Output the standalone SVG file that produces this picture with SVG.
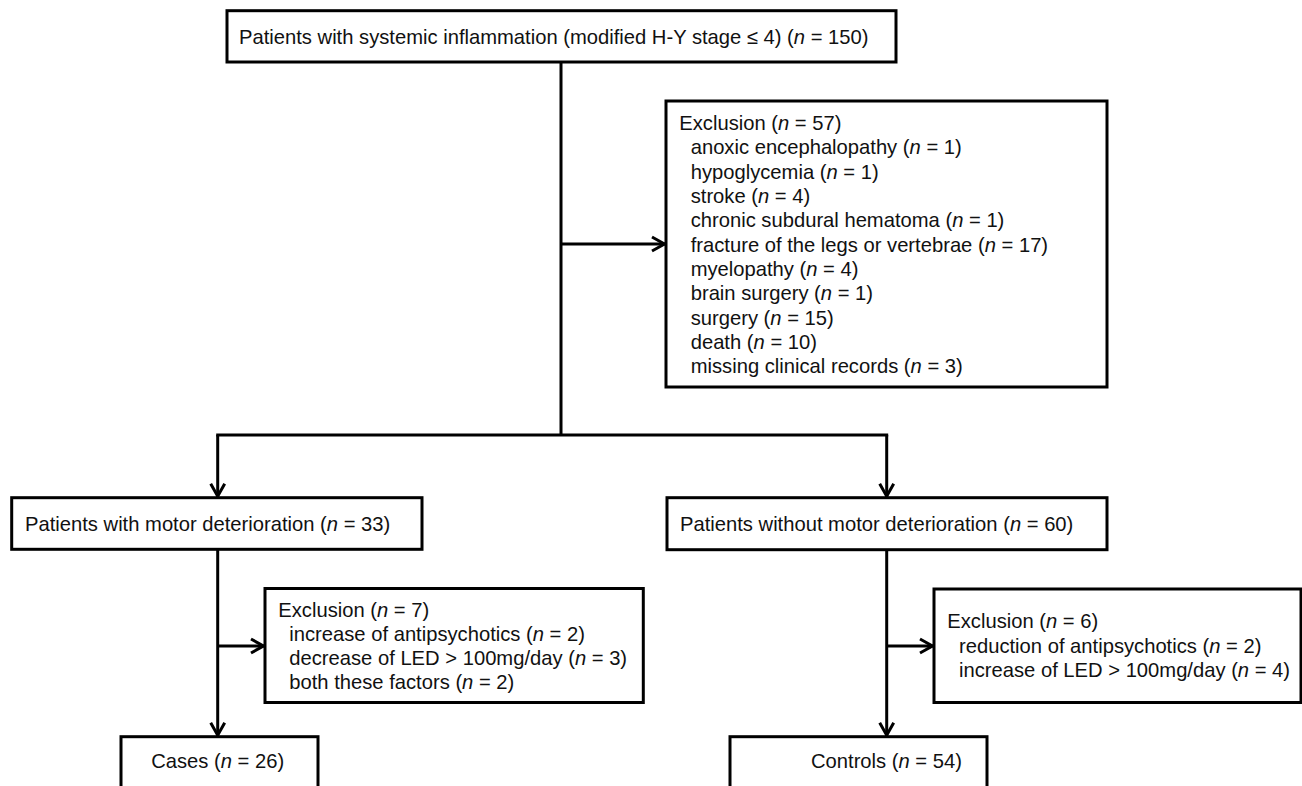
<svg xmlns="http://www.w3.org/2000/svg" width="1302" height="786" viewBox="0 0 1302 786">
<style>
.box{fill:#fff;stroke:#000;stroke-width:3}
.ln{fill:none;stroke:#000;stroke-width:3}
.arr{marker-end:url(#ah)}
text{font-family:"Liberation Sans",Arial,sans-serif;font-size:20.2px;fill:#111}
.i{font-style:italic}
</style>
<defs>
<marker id="ah" viewBox="-16 -10 20 20" refX="0" refY="0" markerWidth="20" markerHeight="20" markerUnits="userSpaceOnUse" orient="auto" overflow="visible">
<path d="M-14,-7 L-1.5,0 L-14,7" fill="none" stroke="#000" stroke-width="3"/>
</marker>
</defs>
<rect width="1302" height="786" fill="#fff"/>
<g id="connectors">
<path class="ln" d="M561,62 V435"/>
<path class="ln arr" d="M561,244 H666"/>
<path class="ln" d="M216.2,435 H888.2"/>
<path class="ln arr" d="M217.7,435 V497.7"/>
<path class="ln arr" d="M886.7,435 V497.7"/>
<path class="ln arr" d="M217.7,549.3 V736.7"/>
<path class="ln arr" d="M217.7,646 H265"/>
<path class="ln arr" d="M886.7,549.7 V736.7"/>
<path class="ln arr" d="M886.7,646 H934"/>
</g>
<g id="n_all">
<rect class="box" x="227" y="10.7" width="669" height="51.3"/>
<text x="239" y="44.3">Patients with systemic inflammation (modified H-Y stage ≤ 4) (<tspan class="i">n</tspan> = 150)</text>
</g>
<g id="n_excl1">
<rect class="box" x="666" y="101" width="441" height="286"/>
<text x="679.3" y="130">Exclusion (<tspan class="i">n</tspan> = 57)</text>
<text x="690.7" y="154.4">anoxic encephalopathy (<tspan class="i">n</tspan> = 1)</text>
<text x="690.7" y="178.7">hypoglycemia (<tspan class="i">n</tspan> = 1)</text>
<text x="690.7" y="203">stroke (<tspan class="i">n</tspan> = 4)</text>
<text x="690.7" y="227.4">chronic subdural hematoma (<tspan class="i">n</tspan> = 1)</text>
<text x="690.7" y="251.7">fracture of the legs or vertebrae (<tspan class="i">n</tspan> = 17)</text>
<text x="690.7" y="276">myelopathy (<tspan class="i">n</tspan> = 4)</text>
<text x="690.7" y="300.4">brain surgery (<tspan class="i">n</tspan> = 1)</text>
<text x="690.7" y="324.7">surgery (<tspan class="i">n</tspan> = 15)</text>
<text x="690.7" y="349">death (<tspan class="i">n</tspan> = 10)</text>
<text x="690.7" y="373.4">missing clinical records (<tspan class="i">n</tspan> = 3)</text>
</g>
<g id="n_motor">
<rect class="box" x="11.7" y="497.7" width="410.3" height="51.6"/>
<text x="25" y="531">Patients with motor deterioration (<tspan class="i">n</tspan> = 33)</text>
</g>
<g id="n_nomotor">
<rect class="box" x="667" y="497.7" width="440" height="52"/>
<text x="680" y="531">Patients without motor deterioration (<tspan class="i">n</tspan> = 60)</text>
</g>
<g id="n_excl2">
<rect class="box" x="265" y="588.5" width="378.3" height="114"/>
<text x="278.3" y="616.7">Exclusion (<tspan class="i">n</tspan> = 7)</text>
<text x="289.3" y="640.8">increase of antipsychotics (<tspan class="i">n</tspan> = 2)</text>
<text x="289.3" y="664.9">decrease of LED &gt; 100mg/day (<tspan class="i">n</tspan> = 3)</text>
<text x="289.3" y="689">both these factors (<tspan class="i">n</tspan> = 2)</text>
</g>
<g id="n_excl3">
<rect class="box" x="934" y="589" width="367" height="113.5"/>
<text x="947.3" y="628.3">Exclusion (<tspan class="i">n</tspan> = 6)</text>
<text x="959" y="652.6">reduction of antipsychotics (<tspan class="i">n</tspan> = 2)</text>
<text x="959" y="676.8">increase of LED &gt; 100mg/day (<tspan class="i">n</tspan> = 4)</text>
</g>
<g id="n_cases">
<rect class="box" x="121" y="736.7" width="197" height="70"/>
<text x="217.7" y="768" text-anchor="middle">Cases (<tspan class="i">n</tspan> = 26)</text>
</g>
<g id="n_controls">
<rect class="box" x="730" y="736.7" width="257" height="70"/>
<text x="811" y="768">Controls (<tspan class="i">n</tspan> = 54)</text>
</g>
</svg>
